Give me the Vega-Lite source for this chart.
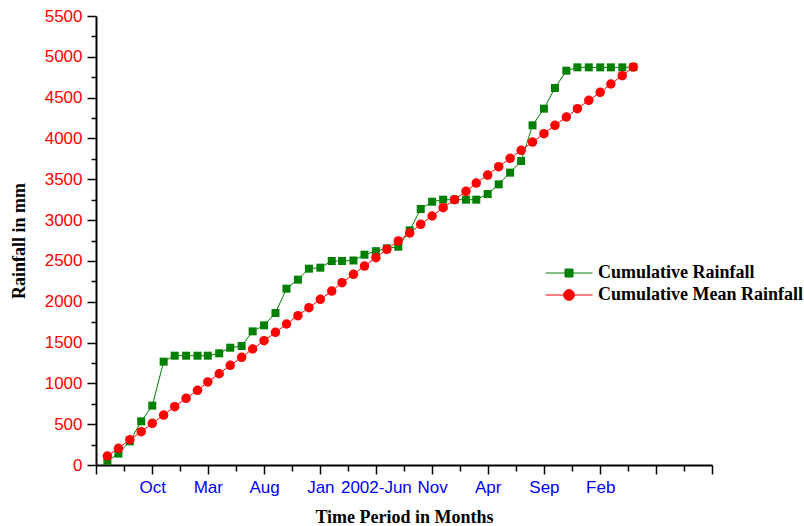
{
  "$schema": "https://vega.github.io/schema/vega-lite/v6.json",
  "width": 616,
  "height": 449,
  "autosize": {"type": "none"},
  "padding": {"left": 96, "top": 16, "right": 92, "bottom": 61},
  "background": "white",
  "config": {"view": {"stroke": null}, "font": "Liberation Sans"},
  "data": {"values": [
    {"month": "2000-06-01", "series": "Cumulative Rainfall", "value": 50},
    {"month": "2000-07-01", "series": "Cumulative Rainfall", "value": 140},
    {"month": "2000-08-01", "series": "Cumulative Rainfall", "value": 290},
    {"month": "2000-09-01", "series": "Cumulative Rainfall", "value": 535},
    {"month": "2000-10-01", "series": "Cumulative Rainfall", "value": 727},
    {"month": "2000-11-01", "series": "Cumulative Rainfall", "value": 1266},
    {"month": "2000-12-01", "series": "Cumulative Rainfall", "value": 1339},
    {"month": "2001-01-01", "series": "Cumulative Rainfall", "value": 1339},
    {"month": "2001-02-01", "series": "Cumulative Rainfall", "value": 1339},
    {"month": "2001-03-01", "series": "Cumulative Rainfall", "value": 1339},
    {"month": "2001-04-01", "series": "Cumulative Rainfall", "value": 1368},
    {"month": "2001-05-01", "series": "Cumulative Rainfall", "value": 1437},
    {"month": "2001-06-01", "series": "Cumulative Rainfall", "value": 1458},
    {"month": "2001-07-01", "series": "Cumulative Rainfall", "value": 1637},
    {"month": "2001-08-01", "series": "Cumulative Rainfall", "value": 1711},
    {"month": "2001-09-01", "series": "Cumulative Rainfall", "value": 1862},
    {"month": "2001-10-01", "series": "Cumulative Rainfall", "value": 2160},
    {"month": "2001-11-01", "series": "Cumulative Rainfall", "value": 2270},
    {"month": "2001-12-01", "series": "Cumulative Rainfall", "value": 2405},
    {"month": "2002-01-01", "series": "Cumulative Rainfall", "value": 2417},
    {"month": "2002-02-01", "series": "Cumulative Rainfall", "value": 2499},
    {"month": "2002-03-01", "series": "Cumulative Rainfall", "value": 2499},
    {"month": "2002-04-01", "series": "Cumulative Rainfall", "value": 2505},
    {"month": "2002-05-01", "series": "Cumulative Rainfall", "value": 2576},
    {"month": "2002-06-01", "series": "Cumulative Rainfall", "value": 2619},
    {"month": "2002-07-01", "series": "Cumulative Rainfall", "value": 2654},
    {"month": "2002-08-01", "series": "Cumulative Rainfall", "value": 2674},
    {"month": "2002-09-01", "series": "Cumulative Rainfall", "value": 2874},
    {"month": "2002-10-01", "series": "Cumulative Rainfall", "value": 3136},
    {"month": "2002-11-01", "series": "Cumulative Rainfall", "value": 3225},
    {"month": "2002-12-01", "series": "Cumulative Rainfall", "value": 3250},
    {"month": "2003-01-01", "series": "Cumulative Rainfall", "value": 3250},
    {"month": "2003-02-01", "series": "Cumulative Rainfall", "value": 3250},
    {"month": "2003-03-01", "series": "Cumulative Rainfall", "value": 3250},
    {"month": "2003-04-01", "series": "Cumulative Rainfall", "value": 3319},
    {"month": "2003-05-01", "series": "Cumulative Rainfall", "value": 3438},
    {"month": "2003-06-01", "series": "Cumulative Rainfall", "value": 3581},
    {"month": "2003-07-01", "series": "Cumulative Rainfall", "value": 3724},
    {"month": "2003-08-01", "series": "Cumulative Rainfall", "value": 4161},
    {"month": "2003-09-01", "series": "Cumulative Rainfall", "value": 4365},
    {"month": "2003-10-01", "series": "Cumulative Rainfall", "value": 4618},
    {"month": "2003-11-01", "series": "Cumulative Rainfall", "value": 4830},
    {"month": "2003-12-01", "series": "Cumulative Rainfall", "value": 4871},
    {"month": "2004-01-01", "series": "Cumulative Rainfall", "value": 4871},
    {"month": "2004-02-01", "series": "Cumulative Rainfall", "value": 4871},
    {"month": "2004-03-01", "series": "Cumulative Rainfall", "value": 4871},
    {"month": "2004-04-01", "series": "Cumulative Rainfall", "value": 4871},
    {"month": "2004-05-01", "series": "Cumulative Rainfall", "value": 4875},
    {"month": "2000-06-01", "series": "Cumulative Mean Rainfall", "value": 110},
    {"month": "2000-07-01", "series": "Cumulative Mean Rainfall", "value": 204},
    {"month": "2000-08-01", "series": "Cumulative Mean Rainfall", "value": 310},
    {"month": "2000-09-01", "series": "Cumulative Mean Rainfall", "value": 408},
    {"month": "2000-10-01", "series": "Cumulative Mean Rainfall", "value": 510},
    {"month": "2000-11-01", "series": "Cumulative Mean Rainfall", "value": 612},
    {"month": "2000-12-01", "series": "Cumulative Mean Rainfall", "value": 714},
    {"month": "2001-01-01", "series": "Cumulative Mean Rainfall", "value": 817},
    {"month": "2001-02-01", "series": "Cumulative Mean Rainfall", "value": 915},
    {"month": "2001-03-01", "series": "Cumulative Mean Rainfall", "value": 1017},
    {"month": "2001-04-01", "series": "Cumulative Mean Rainfall", "value": 1118},
    {"month": "2001-05-01", "series": "Cumulative Mean Rainfall", "value": 1221},
    {"month": "2001-06-01", "series": "Cumulative Mean Rainfall", "value": 1319},
    {"month": "2001-07-01", "series": "Cumulative Mean Rainfall", "value": 1421},
    {"month": "2001-08-01", "series": "Cumulative Mean Rainfall", "value": 1523},
    {"month": "2001-09-01", "series": "Cumulative Mean Rainfall", "value": 1625},
    {"month": "2001-10-01", "series": "Cumulative Mean Rainfall", "value": 1727},
    {"month": "2001-11-01", "series": "Cumulative Mean Rainfall", "value": 1829},
    {"month": "2001-12-01", "series": "Cumulative Mean Rainfall", "value": 1927},
    {"month": "2002-01-01", "series": "Cumulative Mean Rainfall", "value": 2029},
    {"month": "2002-02-01", "series": "Cumulative Mean Rainfall", "value": 2131},
    {"month": "2002-03-01", "series": "Cumulative Mean Rainfall", "value": 2233},
    {"month": "2002-04-01", "series": "Cumulative Mean Rainfall", "value": 2336},
    {"month": "2002-05-01", "series": "Cumulative Mean Rainfall", "value": 2437},
    {"month": "2002-06-01", "series": "Cumulative Mean Rainfall", "value": 2540},
    {"month": "2002-07-01", "series": "Cumulative Mean Rainfall", "value": 2642},
    {"month": "2002-08-01", "series": "Cumulative Mean Rainfall", "value": 2745},
    {"month": "2002-09-01", "series": "Cumulative Mean Rainfall", "value": 2842},
    {"month": "2002-10-01", "series": "Cumulative Mean Rainfall", "value": 2948},
    {"month": "2002-11-01", "series": "Cumulative Mean Rainfall", "value": 3050},
    {"month": "2002-12-01", "series": "Cumulative Mean Rainfall", "value": 3152},
    {"month": "2003-01-01", "series": "Cumulative Mean Rainfall", "value": 3250},
    {"month": "2003-02-01", "series": "Cumulative Mean Rainfall", "value": 3352},
    {"month": "2003-03-01", "series": "Cumulative Mean Rainfall", "value": 3454},
    {"month": "2003-04-01", "series": "Cumulative Mean Rainfall", "value": 3552},
    {"month": "2003-05-01", "series": "Cumulative Mean Rainfall", "value": 3654},
    {"month": "2003-06-01", "series": "Cumulative Mean Rainfall", "value": 3757},
    {"month": "2003-07-01", "series": "Cumulative Mean Rainfall", "value": 3855},
    {"month": "2003-08-01", "series": "Cumulative Mean Rainfall", "value": 3956},
    {"month": "2003-09-01", "series": "Cumulative Mean Rainfall", "value": 4058},
    {"month": "2003-10-01", "series": "Cumulative Mean Rainfall", "value": 4161},
    {"month": "2003-11-01", "series": "Cumulative Mean Rainfall", "value": 4263},
    {"month": "2003-12-01", "series": "Cumulative Mean Rainfall", "value": 4365},
    {"month": "2004-01-01", "series": "Cumulative Mean Rainfall", "value": 4467},
    {"month": "2004-02-01", "series": "Cumulative Mean Rainfall", "value": 4565},
    {"month": "2004-03-01", "series": "Cumulative Mean Rainfall", "value": 4667},
    {"month": "2004-04-01", "series": "Cumulative Mean Rainfall", "value": 4769},
    {"month": "2004-05-01", "series": "Cumulative Mean Rainfall", "value": 4875}
  ]},
  "resolve": {"axis": {"x": "independent", "y": "independent"}},
  "layer": [
    {
      "mark": {"type": "line", "strokeWidth": 1},
      "encoding": {
        "x": {
          "field": "month", "type": "temporal",
          "scale": {"type": "utc", "domain": [{"year": 2000, "month": 5, "date": 1, "utc": true}, {"year": 2004, "month": 12, "date": 1, "utc": true}]},
          "axis": {
            "orient": "bottom",
            "title": "Time Period in Months",
            "titleFont": "Liberation Serif", "titleFontWeight": "bold", "titleFontSize": 18, "titleColor": "black", "titlePadding": 13,
            "values": [
              {"year": 2000, "month": 5, "date": 1, "utc": true},
              {"year": 2000, "month": 10, "date": 1, "utc": true},
              {"year": 2001, "month": 3, "date": 1, "utc": true},
              {"year": 2001, "month": 8, "date": 1, "utc": true},
              {"year": 2002, "month": 1, "date": 1, "utc": true},
              {"year": 2002, "month": 6, "date": 1, "utc": true},
              {"year": 2002, "month": 11, "date": 1, "utc": true},
              {"year": 2003, "month": 4, "date": 1, "utc": true},
              {"year": 2003, "month": 9, "date": 1, "utc": true},
              {"year": 2004, "month": 2, "date": 1, "utc": true},
              {"year": 2004, "month": 7, "date": 1, "utc": true},
              {"year": 2004, "month": 12, "date": 1, "utc": true}
            ],
            "labelExpr": "(utcyear(datum.value) == 2000 && utcmonth(datum.value) == 4) || (utcyear(datum.value) == 2004 && utcmonth(datum.value) >= 6) ? '' : (utcFormat(datum.value, '%Y-%m') == '2002-06' ? '2002-Jun' : utcFormat(datum.value, '%b'))",
            "labelFont": "Liberation Sans", "labelFontSize": 17, "labelColor": "#0000ff", "labelPadding": 5,
            "labelOverlap": false, "labelBound": false, "labelFlush": false,
            "grid": false,
            "domainColor": "black", "domainWidth": 2,
            "tickColor": "black", "tickWidth": 1.5, "tickSize": 9
          }
        },
        "y": {
          "field": "value", "type": "quantitative",
          "scale": {"domain": [0, 5500], "nice": false, "zero": true},
          "axis": {
            "orient": "left",
            "title": "Rainfall in mm",
            "titleFont": "Liberation Serif", "titleFontWeight": "bold", "titleFontSize": 18, "titleColor": "black", "titlePadding": 16,
            "values": [0, 500, 1000, 1500, 2000, 2500, 3000, 3500, 4000, 4500, 5000, 5500],
            "format": "d",
            "labelFont": "Liberation Sans", "labelFontSize": 17, "labelColor": "#ff0000", "labelPadding": 5,
            "labelOverlap": false, "labelBound": false, "labelFlush": false,
            "grid": false,
            "domainColor": "black", "domainWidth": 2,
            "tickColor": "black", "tickWidth": 1.5, "tickSize": 9
          }
        },
        "color": {
          "field": "series", "type": "nominal",
          "scale": {"domain": ["Cumulative Rainfall", "Cumulative Mean Rainfall"], "range": ["#008000", "#ff0000"]},
          "legend": {
            "title": null,
            "orient": "none",
            "legendX": 449,
            "legendY": 246,
            "padding": 0,
            "symbolSize": 2209,
            "clipHeight": 22,
            "rowPadding": 0,
            "labelOffset": 5,
            "labelFont": "Liberation Serif", "labelFontWeight": "bold", "labelFontSize": 18, "labelColor": "black",
            "labelLimit": 400,
            "encode": {
              "symbols": {
                "update": {
                  "shape": {"signal": "datum.value == 'Cumulative Rainfall' ? 'M-1,0H1M-0.17,-0.17H0.17V0.17H-0.17Z' : 'M-1,0H1M0.23,0A0.23,0.23,0,1,1,-0.23,0A0.23,0.23,0,1,1,0.23,0Z'"},
                  "fill": {"signal": "datum.value == 'Cumulative Rainfall' ? '#008000' : '#ff0000'"},
                  "stroke": {"signal": "datum.value == 'Cumulative Rainfall' ? '#008000' : '#ff0000'"},
                  "strokeWidth": {"value": 1},
                  "opacity": {"value": 1}
                }
              }
            }
          }
        }
      }
    },
    {
      "transform": [{"filter": "datum.series == 'Cumulative Rainfall'"}],
      "mark": {"type": "point", "shape": "square", "filled": true, "size": 64, "opacity": 1},
      "encoding": {
        "x": {
          "field": "month", "type": "temporal",
          "axis": {
            "orient": "bottom", "title": null, "labels": false, "domain": false, "grid": false,
            "values": [
              {"year": 2000, "month": 7, "date": 16, "utc": true},
              {"year": 2000, "month": 12, "date": 16, "utc": true},
              {"year": 2001, "month": 5, "date": 16, "utc": true},
              {"year": 2001, "month": 10, "date": 16, "utc": true},
              {"year": 2002, "month": 3, "date": 16, "utc": true},
              {"year": 2002, "month": 8, "date": 16, "utc": true},
              {"year": 2003, "month": 1, "date": 16, "utc": true},
              {"year": 2003, "month": 6, "date": 16, "utc": true},
              {"year": 2003, "month": 11, "date": 16, "utc": true},
              {"year": 2004, "month": 4, "date": 16, "utc": true},
              {"year": 2004, "month": 9, "date": 16, "utc": true}
            ],
            "tickColor": "black", "tickWidth": 1.5, "tickSize": 6
          }
        },
        "y": {
          "field": "value", "type": "quantitative",
          "axis": {
            "orient": "left", "title": null, "labels": false, "domain": false, "grid": false,
            "values": [250, 750, 1250, 1750, 2250, 2750, 3250, 3750, 4250, 4750, 5250],
            "tickColor": "black", "tickWidth": 1.5, "tickSize": 5
          }
        },
        "color": {"field": "series", "type": "nominal", "legend": null}
      }
    },
    {
      "transform": [{"filter": "datum.series == 'Cumulative Mean Rainfall'"}],
      "mark": {"type": "point", "shape": "circle", "filled": true, "size": 90, "opacity": 1},
      "encoding": {
        "x": {"field": "month", "type": "temporal", "axis": null},
        "y": {"field": "value", "type": "quantitative", "axis": null},
        "color": {"field": "series", "type": "nominal", "legend": null}
      }
    }
  ]
}
